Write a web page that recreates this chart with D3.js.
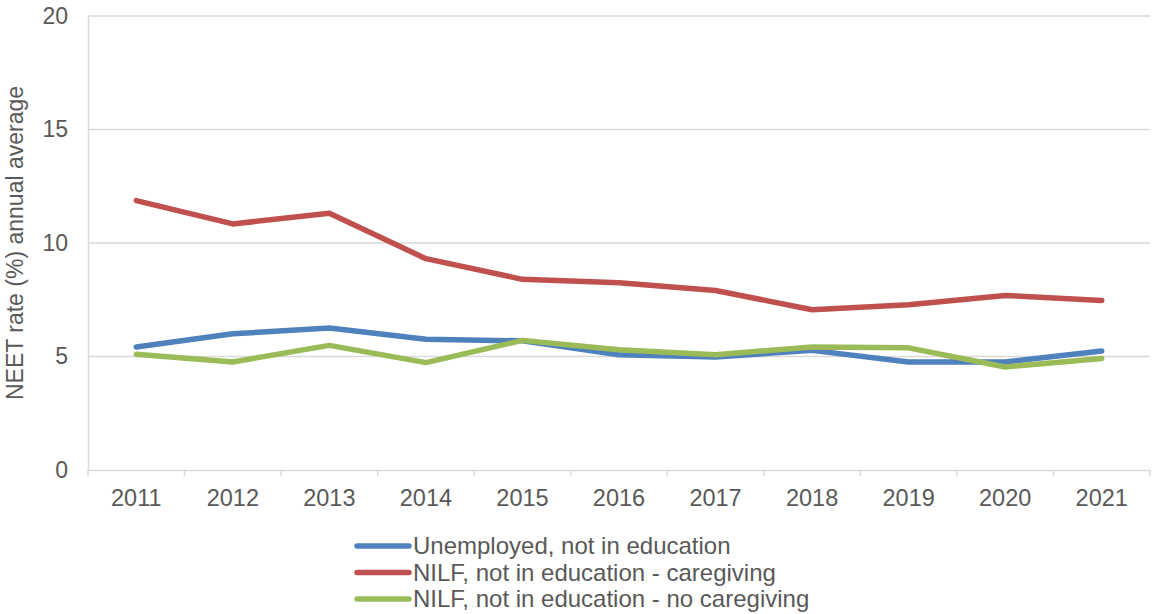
<!DOCTYPE html>
<html>
<head>
<meta charset="utf-8">
<script src="https://cdn.jsdelivr.net/npm/d3@7"></script>
<style>
  html, body { margin: 0; padding: 0; background: #fff; }
  svg { display: block; font-family: "Liberation Sans", Arial, sans-serif; }
</style>
</head>
<body>
<svg id="chart" width="1154" height="614"></svg>
<script>
// Years on the category axis
const years = ["2011","2012","2013","2014","2015","2016","2017","2018","2019","2020","2021"];

// NEET rate (%) annual average, by group
const unemployed = [5.42, 6.00, 6.26, 5.76, 5.69, 5.08, 4.98, 5.27, 4.76, 4.76, 5.24];
const nilfCaregiving = [11.87, 10.84, 11.31, 9.31, 8.40, 8.25, 7.91, 7.06, 7.28, 7.69, 7.47];
const nilfNoCaregiving = [5.10, 4.76, 5.49, 4.73, 5.71, 5.30, 5.08, 5.42, 5.38, 4.54, 4.91];

const yTicks = [0, 5, 10, 15, 20];
const seriesNames = ["Unemployed, not in education", "NILF, not in education - caregiving", "NILF, not in education - no caregiving"];
const seriesColors = ["#4F81BD", "#C0504D", "#9BBB59"];

const series = [unemployed, nilfCaregiving, nilfNoCaregiving].map((vals, i) => ({
  name: seriesNames[i], color: seriesColors[i], values: vals
}));

const svg = d3.select("#chart");
const plotLeft = 88, plotRight = 1150, plotTop = 16, plotBottom = 470;
const gridColor = "#d9d9d9", textColor = "#595959";
const fontSize = 23;

const x = d3.scaleBand().domain(years).range([plotLeft, plotRight]).paddingInner(0).paddingOuter(0);
const y = d3.scaleLinear().domain([0, 20]).range([plotBottom, plotTop]);

// Horizontal gridlines
svg.append("g")
  .selectAll("line")
  .data(yTicks.filter(t => t > 0))
  .join("line")
  .attr("x1", plotLeft).attr("x2", plotRight)
  .attr("y1", d => y(d)).attr("y2", d => y(d))
  .attr("stroke", gridColor).attr("stroke-width", 1.5);

// Y axis
const yAxis = svg.append("g")
  .attr("transform", `translate(${plotLeft},0)`)
  .call(d3.axisLeft(y).tickValues(yTicks).tickSize(0).tickPadding(20));
yAxis.select(".domain").attr("stroke", gridColor).attr("stroke-width", 1.5);
yAxis.selectAll("text").attr("fill", textColor).attr("font-size", fontSize);

// X axis with ticks at band boundaries
const xAxis = svg.append("g")
  .attr("transform", `translate(0,${plotBottom})`)
  .call(d3.axisBottom(x).tickSize(0).tickPadding(19));
xAxis.select(".domain").attr("stroke", gridColor).attr("stroke-width", 1.5);
xAxis.selectAll("text").attr("fill", textColor).attr("font-size", 23.5);
xAxis.selectAll("line.bound")
  .data(years.map(d => x(d)).concat([plotRight]))
  .join("line")
  .attr("class", "bound")
  .attr("x1", d => d).attr("x2", d => d)
  .attr("y1", 0).attr("y2", 6)
  .attr("stroke", gridColor).attr("stroke-width", 1.5);

// Y axis title
svg.append("text")
  .attr("transform", `translate(23,${(plotTop + plotBottom) / 2}) rotate(-90)`)
  .attr("text-anchor", "middle")
  .attr("fill", textColor)
  .attr("font-size", fontSize)
  .text("NEET rate (%) annual average");

// Series lines
const line = d3.line()
  .x((d, i) => x(years[i]) + x.bandwidth() / 2)
  .y(d => y(d));

svg.append("g")
  .selectAll("path")
  .data(series)
  .join("path")
  .attr("d", d => line(d.values))
  .attr("fill", "none")
  .attr("stroke", d => d.color)
  .attr("stroke-width", 5.5)
  .attr("stroke-linejoin", "round")
  .attr("stroke-linecap", "round");

// Legend
const legend = svg.append("g");
const lg = legend.selectAll("g")
  .data(series)
  .join("g")
  .attr("transform", (d, i) => `translate(357,${546 + i * 26.5})`);
lg.append("line")
  .attr("x1", 0).attr("x2", 52)
  .attr("stroke", d => d.color)
  .attr("stroke-width", 5.5)
  .attr("stroke-linecap", "round");
lg.append("text")
  .attr("x", 56)
  .attr("dy", "0.35em")
  .attr("fill", textColor)
  .attr("font-size", 24)
  .text(d => d.name);
</script>
</body>
</html>
